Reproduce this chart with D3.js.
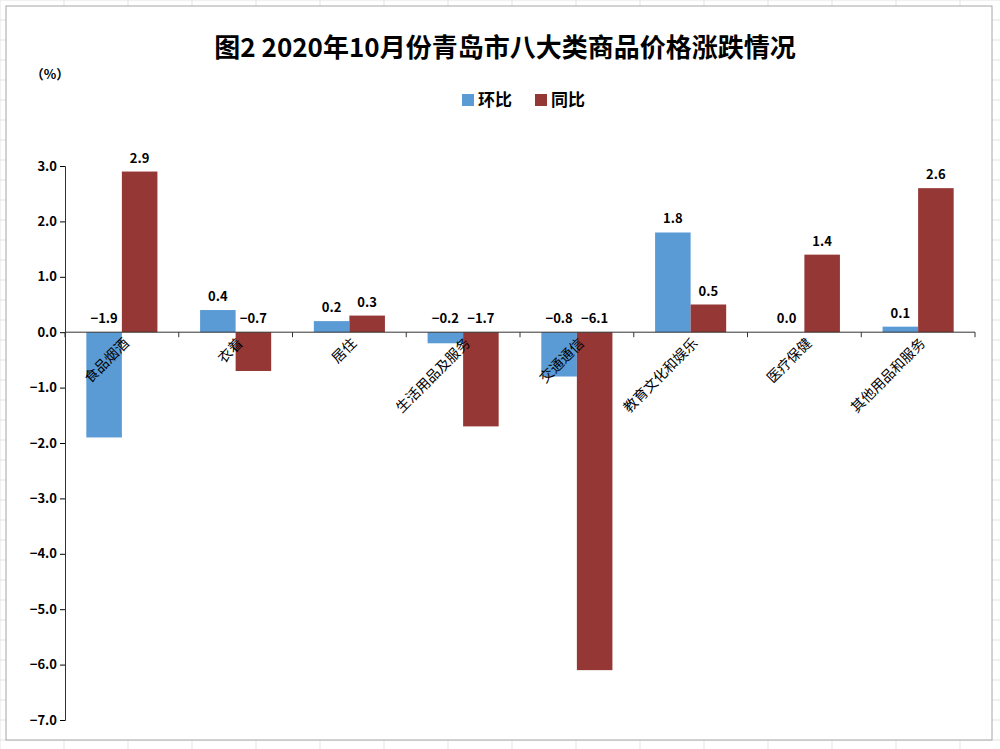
<!DOCTYPE html>
<html><head><meta charset="utf-8">
<script src="https://cdn.jsdelivr.net/npm/d3@7"></script>
<style>body{margin:0;background:#fff}</style>
</head><body>
<svg id="c" width="1000" height="749"></svg>
<script>
// data
var categories = ["食品烟酒","衣着","居住","生活用品及服务","交通通信","教育文化和娱乐","医疗保健","其他用品和服务"];
var huanbi = [-1.9, 0.4, 0.2, -0.2, -0.8, 1.8, 0.0, 0.1];
var tongbi = [2.9, -0.7, 0.3, -1.7, -6.1, 0.5, 1.4, 2.6];
var yTicks = [3,2,1,0,-1,-2,-3,-4,-5,-6,-7];
var seriesNames = ["环比","同比"];
var colors = ["#5B9BD5","#953735"];

var svg = d3.select("#c");
var font = "'Noto Sans CJK SC', sans-serif";

// spreadsheet cell grid behind the chart
var bg = svg.append("g");
d3.range(0, 1000, 64).forEach(function(x){ bg.append("line").attr("x1",x).attr("x2",x).attr("y1",0).attr("y2",749).attr("stroke","#e3e3e3"); });
d3.range(0, 749, 20).forEach(function(y){ bg.append("line").attr("x1",0).attr("x2",1000).attr("y1",y).attr("y2",y).attr("stroke","#e3e3e3"); });
svg.append("rect").attr("x",6).attr("y",6).attr("width",986).attr("height",734)
  .attr("fill","#fff").attr("stroke","#a6a6a6");

svg.append("text").attr("x",505).attr("y",57).attr("text-anchor","middle")
  .attr("font-family",font).attr("font-weight","bold").attr("font-size",26).text("图2   2020年10月份青岛市八大类商品价格涨跌情况");
svg.append("text").attr("x",50).attr("y",79).attr("text-anchor","middle")
  .attr("font-family",font).attr("font-weight","bold").attr("font-size",13).text("（%）");

// legend
var lg = svg.append("g").attr("transform","translate(462,94)");
seriesNames.forEach(function(n,i){
  var g = lg.append("g").attr("transform","translate("+(i*73)+",0)");
  g.append("rect").attr("width",12).attr("height",12).attr("fill",colors[i]);
  g.append("text").attr("x",16).attr("y",12).attr("font-family",font).attr("font-weight","bold").attr("font-size",17).text(n);
});

var y = d3.scaleLinear().domain([-7,3]).range([720,166]);
var x = d3.scaleBand().domain(categories).range([65,975]);
var inner = d3.scaleBand().domain([0,1]).range([0,x.bandwidth()]).paddingInner(0).paddingOuter(0.6);

var yAxis = svg.append("g").attr("transform","translate(65,0)")
  .call(d3.axisLeft(y).tickValues(yTicks).tickFormat(d3.format(".1f")).tickSize(5));
yAxis.select(".domain").attr("stroke","#333");
yAxis.selectAll("text").attr("font-family",font).attr("font-weight","bold").attr("font-size",13).attr("fill","#000");

var data = [huanbi, tongbi];
data.forEach(function(arr, s){
  svg.append("g").selectAll("rect").data(arr).join("rect")
    .attr("x",function(d,i){ return x(categories[i]) + inner(s); })
    .attr("width",inner.bandwidth())
    .attr("y",function(d){ return y(Math.max(0,d)); })
    .attr("height",function(d){ return Math.abs(y(d)-y(0)); })
    .attr("fill",colors[s]);
  svg.append("g").selectAll("text").data(arr).join("text")
    .attr("x",function(d,i){ return x(categories[i]) + inner(s) + inner.bandwidth()/2; })
    .attr("y",function(d){ return y(Math.max(0,d)) - 9; })
    .attr("text-anchor","middle").attr("font-family",font).attr("font-weight","bold").attr("font-size",13)
    .text(function(d){ return d3.format(".1f")(d); });
});

// zero axis with category ticks
var xAxis = svg.append("g").attr("transform","translate(0,"+y(0)+")");
xAxis.append("line").attr("x1",65).attr("x2",975).attr("stroke","#333");
xAxis.selectAll("line.t").data(categories.concat(["end"])).join("line").attr("class","t")
  .attr("x1",function(d,i){ return 65 + i*x.step(); }).attr("x2",function(d,i){ return 65 + i*x.step(); })
  .attr("y1",0).attr("y2",5).attr("stroke","#333");
xAxis.selectAll("text").data(categories).join("text")
  .attr("transform",function(d){ return "translate("+(x(d)+x.bandwidth()/2+8)+",12) rotate(-45)"; })
  .attr("text-anchor","end").attr("font-family",font).attr("font-size",14).text(function(d){ return d; });
</script>
</body></html>
